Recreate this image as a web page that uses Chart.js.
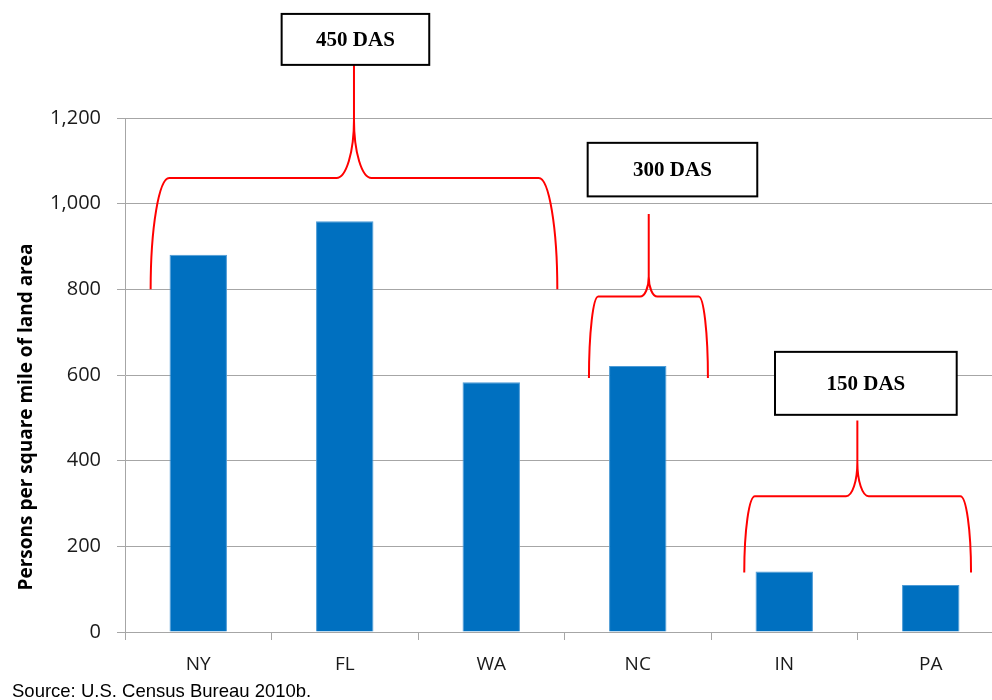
<!DOCTYPE html>
<html>
<head>
<meta charset="utf-8">
<script src="https://cdn.jsdelivr.net/npm/chart.js@4.4.1/dist/chart.umd.min.js"></script>
<style>
  html, body { margin: 0; padding: 0; background: #fff; overflow: hidden; }
  canvas { display: block; }
</style>
</head>
<body>
<canvas id="c" width="1010" height="700"></canvas>
<script>
// Population density by state (persons per square mile of land area)
const states = ['NY', 'FL', 'WA', 'NC', 'IN', 'PA'];
const density = [881, 959, 583, 621, 141, 110];
const yTicks = [0, 200, 400, 600, 800, 1000, 1200];
const groupLabels = ['450 DAS', '300 DAS', '150 DAS'];

// Braces grouping the states; x in category units, y in data units
const braces = [
  { xl: -0.325, xr: 2.451, xt: 1.063, base: 800, bar: 1060, tip: 1324, corner: 18.6, midRx: 17.5, midRy: 58 },
  { xl: 2.667, xr: 3.479, xt: 3.075, base: 593, bar: 783, tip: 976, corner: 9.3, midRx: 8.7, midRy: 20 },
  { xl: 3.727, xr: 5.275, xt: 4.499, base: 139, bar: 317, tip: 494, corner: 10.7, midRx: 11.3, midRy: 34 }
];
// Label boxes above each brace (centre in category units, top/bottom in data units)
const boxes = [
  { xc: 1.073, top: 1443, bottom: 1324, w: 147.6 },
  { xc: 3.237, top: 1142, bottom: 1017, w: 169.6 },
  { xc: 4.557, top: 654, bottom: 507, w: 181.7 }
];

const annotate = {
  id: 'annotate',
  afterDraw(chart) {
    const ctx = chart.ctx;
    const xs = chart.scales.x, ys = chart.scales.y;
    ctx.save();

    // red braces
    ctx.strokeStyle = '#ff0000';
    ctx.lineWidth = 2;
    braces.forEach(b => {
      const xl = xs.getPixelForValue(b.xl), xr = xs.getPixelForValue(b.xr), xt = xs.getPixelForValue(b.xt);
      const yb = ys.getPixelForValue(b.base), yh = ys.getPixelForValue(b.bar), yt = ys.getPixelForValue(b.tip);
      const h = yb - yh;
      ctx.beginPath();
      ctx.moveTo(xl, yb);
      ctx.ellipse(xl + b.corner, yb, b.corner, h, 0, Math.PI, Math.PI * 1.5, false);
      ctx.lineTo(xt - b.midRx, yh);
      ctx.ellipse(xt - b.midRx, yh - b.midRy, b.midRx, b.midRy, 0, Math.PI / 2, 0, true);
      ctx.lineTo(xt, yt);
      ctx.moveTo(xt, yh - b.midRy);
      ctx.ellipse(xt + b.midRx, yh - b.midRy, b.midRx, b.midRy, 0, Math.PI, Math.PI / 2, true);
      ctx.lineTo(xr - b.corner, yh);
      ctx.ellipse(xr - b.corner, yb, b.corner, h, 0, Math.PI * 1.5, Math.PI * 2, false);
      ctx.stroke();
    });

    // label boxes
    ctx.font = 'bold 21px "Liberation Serif", "Times New Roman", serif';
    ctx.textAlign = 'center';
    ctx.textBaseline = 'middle';
    boxes.forEach((bx, i) => {
      const cx = xs.getPixelForValue(bx.xc);
      const y0 = ys.getPixelForValue(bx.top), y1 = ys.getPixelForValue(bx.bottom);
      ctx.fillStyle = '#ffffff';
      ctx.fillRect(cx - bx.w / 2, y0, bx.w, y1 - y0);
      ctx.strokeStyle = '#000000';
      ctx.lineWidth = 2;
      ctx.strokeRect(cx - bx.w / 2, y0, bx.w, y1 - y0);
      ctx.fillStyle = '#000000';
      ctx.fillText(groupLabels[i], cx, (y0 + y1) / 2 + 1);
    });

    // axis title
    ctx.save();
    ctx.translate(27, ys.getPixelForValue(0) - 215);
    ctx.rotate(-Math.PI / 2);
    ctx.font = 'bold 19px "Open Sans", sans-serif';
    ctx.fillStyle = '#000000';
    ctx.textAlign = 'center';
    ctx.textBaseline = 'middle';
    ctx.fillText('Persons per square mile of land area', 0, 0);
    ctx.restore();

    // source note
    ctx.font = '18.5px "Liberation Sans", Arial, sans-serif';
    ctx.fillStyle = '#000000';
    ctx.textAlign = 'left';
    ctx.textBaseline = 'alphabetic';
    ctx.fillText('Source: U.S. Census Bureau 2010b.', 12, 697);
    ctx.restore();
  }
};

new Chart(document.getElementById('c'), {
  type: 'bar',
  data: {
    labels: states,
    datasets: [{
      data: density,
      backgroundColor: '#0070c0',
      borderColor: '#4d9bd6',
      borderWidth: 1,
      categoryPercentage: 0.8,
      barPercentage: 0.49
    }]
  },
  options: {
    responsive: false,
    animation: false,
    layout: { padding: { top: 118, right: 6, left: 0, bottom: 0 } },
    plugins: { legend: { display: false }, tooltip: { enabled: false } },
    scales: {
      x: {
        offset: true,
        grid: { drawOnChartArea: false, drawTicks: true, tickLength: 8, color: '#a6a6a6', offset: true },
        border: { color: '#a6a6a6' },
        ticks: { font: { family: '"Open Sans", sans-serif', size: 19 }, color: '#1a1a1a', padding: 13 },
        afterFit(scale) { scale.height = 68; }
      },
      y: {
        min: 0,
        max: 1200,
        afterBuildTicks(scale) { scale.ticks = yTicks.map(v => ({ value: v })); },
        grid: { color: '#a6a6a6', tickLength: 8 },
        border: { color: '#a6a6a6' },
        ticks: {
          font: { family: '"Open Sans", sans-serif', size: 20 },
          color: '#1a1a1a',
          padding: 16,
          callback: v => v.toLocaleString('en-US')
        },
        afterFit(scale) { scale.width = 125; }
      }
    }
  },
  plugins: [annotate]
});
</script>
</body>
</html>
